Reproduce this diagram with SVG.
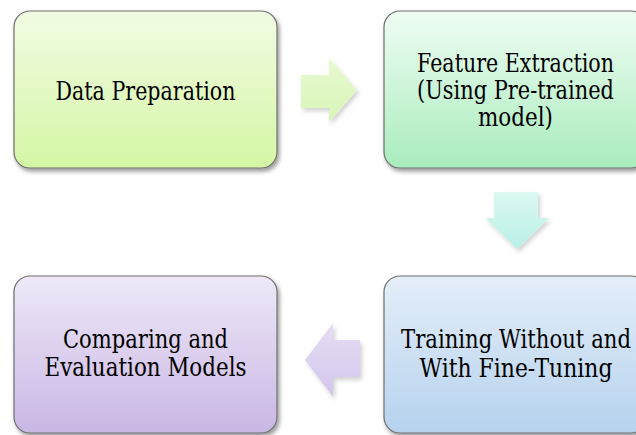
<svg xmlns="http://www.w3.org/2000/svg" width="636" height="435" viewBox="0 0 636 435">
<defs>
<style>
.box{stroke:#6f6f6f;stroke-width:1.2;filter:url(#sh)}
.arr{stroke:none;filter:url(#ash)}
.t{font-size:26.6px;fill:#000;text-anchor:middle}
</style>
<filter id="sh" x="-10%" y="-10%" width="125%" height="130%">
<feDropShadow dx="2" dy="3" stdDeviation="2" flood-color="#000" flood-opacity="0.4"/>
</filter>
<filter id="ash" x="-20%" y="-20%" width="150%" height="150%">
<feDropShadow dx="2" dy="3" stdDeviation="2" flood-color="#000" flood-opacity="0.18"/>
</filter>
<linearGradient id="g1" x1="0" y1="0" x2="0" y2="1"><stop offset="0" stop-color="#f1fce3"/><stop offset="1" stop-color="#d5f6a5"/></linearGradient>
<linearGradient id="g2" x1="0" y1="0" x2="0" y2="1"><stop offset="0" stop-color="#effdf3"/><stop offset="1" stop-color="#a9ecbd"/></linearGradient>
<linearGradient id="g3" x1="0" y1="0" x2="0" y2="1"><stop offset="0" stop-color="#eee8f8"/><stop offset="1" stop-color="#c9b7e4"/></linearGradient>
<linearGradient id="g4" x1="0" y1="0" x2="0" y2="1"><stop offset="0" stop-color="#e4eef9"/><stop offset="1" stop-color="#b6d2ee"/></linearGradient>
<linearGradient id="a1" x1="0" y1="0" x2="0" y2="1"><stop offset="0" stop-color="#e6f9d0"/><stop offset="1" stop-color="#d9f5b8"/></linearGradient>
<linearGradient id="a2" x1="0" y1="0" x2="0" y2="1"><stop offset="0" stop-color="#dcf8f3"/><stop offset="1" stop-color="#b8f0e5"/></linearGradient>
<linearGradient id="a3" x1="0" y1="0" x2="0" y2="1"><stop offset="0" stop-color="#e6ddf5"/><stop offset="1" stop-color="#d2c6ec"/></linearGradient>
</defs>
<g id="connectors">
<polygon class="arr" fill="url(#a1)" points="301,75 329,75 329,58 357,90 329,122 329,108 301,108"/>
<polygon class="arr" fill="url(#a2)" points="494,192 538,192 538,218 549,218 517,249 485,218 494,218"/>
<polygon class="arr" fill="url(#a3)" points="360,340 333,340 333,323 305,360 333,397 333,377 360,377"/>
</g>
<g font-family="DejaVu Serif, serif">
<g id="n1">
<rect class="box" x="14" y="11" width="263" height="157" rx="16" fill="url(#g1)"/>
<text class="t" x="145.5" y="100" textLength="180" lengthAdjust="spacingAndGlyphs">Data Preparation</text>
</g>
<g id="n2">
<rect class="box" x="384" y="11" width="263" height="157" rx="16" fill="url(#g2)"/>
<text class="t" x="515.5" y="72" textLength="197" lengthAdjust="spacingAndGlyphs">Feature Extraction</text>
<text class="t" x="515.5" y="99" textLength="197" lengthAdjust="spacingAndGlyphs">(Using Pre-trained</text>
<text class="t" x="515.5" y="126" textLength="75" lengthAdjust="spacingAndGlyphs">model)</text>
</g>
<g id="n4">
<rect class="box" x="384" y="276" width="263" height="157" rx="16" fill="url(#g4)"/>
<text class="t" x="516" y="348" textLength="230" lengthAdjust="spacingAndGlyphs">Training Without and</text>
<text class="t" x="516" y="377" textLength="193" lengthAdjust="spacingAndGlyphs">With Fine-Tuning</text>
</g>
<g id="n3">
<rect class="box" x="14" y="276" width="263" height="157" rx="16" fill="url(#g3)"/>
<text class="t" x="145.5" y="348" textLength="165" lengthAdjust="spacingAndGlyphs">Comparing and</text>
<text class="t" x="145.5" y="376" textLength="202" lengthAdjust="spacingAndGlyphs">Evaluation Models</text>
</g>
</g>
</svg>
